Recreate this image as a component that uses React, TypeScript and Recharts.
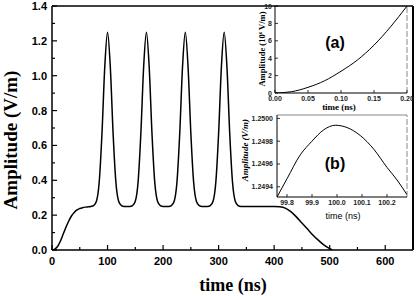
import React from 'react';
import { LineChart, Line, XAxis, YAxis, ReferenceLine } from 'recharts';

// main trace
const mainTime = [
  0, 5, 10, 15, 20, 25, 30, 35, 40, 45, 50, 55, 60, 65, 70,
  75, 80, 85, 90, 95, 100, 105, 110, 115, 120, 125, 130, 135, 140,
  145, 150, 155, 160, 165, 170, 175, 180, 185, 190, 195, 200, 205, 210,
  215, 220, 225, 230, 235, 240, 245, 250, 255, 260, 265, 270, 275, 280,
  285, 290, 295, 300, 305, 310, 315, 320, 325, 330, 335, 340, 350, 360, 370, 380, 390, 400,
  410, 420, 430, 440, 450, 460, 470, 480, 490, 500, 505,
];
const mainAmp = [
  0, 0.005, 0.02, 0.05, 0.09, 0.13, 0.165, 0.195, 0.215, 0.23, 0.238, 0.243, 0.246, 0.248, 0.25,
  0.255, 0.28, 0.39, 0.67, 1.05, 1.25, 1.05, 0.67, 0.39, 0.28, 0.255, 0.25, 0.25, 0.25,
  0.255, 0.28, 0.39, 0.67, 1.05, 1.25, 1.05, 0.67, 0.39, 0.28, 0.255, 0.25, 0.25, 0.25,
  0.255, 0.28, 0.39, 0.67, 1.05, 1.25, 1.05, 0.67, 0.39, 0.28, 0.255, 0.25, 0.25, 0.25,
  0.255, 0.28, 0.39, 0.67, 1.05, 1.25, 1.05, 0.67, 0.39, 0.28, 0.255, 0.25, 0.25, 0.25, 0.25, 0.25, 0.25, 0.25,
  0.248, 0.24, 0.22, 0.19, 0.155, 0.12, 0.085, 0.055, 0.028, 0.008, 0,
];
const mainXTicks = [0, 50, 100, 150, 200, 250, 300, 350, 400, 450, 500, 550, 600];
const mainYTicks = [0, 0.1, 0.2, 0.3, 0.4, 0.5, 0.6, 0.7, 0.8, 0.9, 1.0, 1.1, 1.2, 1.3, 1.4];

// inset (a): start of the pulse
const aTime = [0, 0.025, 0.05, 0.075, 0.1, 0.125, 0.15, 0.175, 0.2];
const aAmp = [0, 0.15, 0.65, 1.4, 2.5, 3.8, 5.5, 7.6, 10];
const aXTicks = [0, 0.05, 0.1, 0.15, 0.2];
const aYTicks = [0, 2, 4, 6, 8, 10];

// inset (b): top of the first peak
const bTime = [99.76, 99.8, 99.853, 99.9, 99.947, 99.993, 100.04, 100.093, 100.147, 100.2, 100.24, 100.28];
const bAmp = [1.24931, 1.24947, 1.24968, 1.2498, 1.2499, 1.24994, 1.24992, 1.24985, 1.24973, 1.24957, 1.24946, 1.24933];
const bXTicks = [99.8, 99.9, 100.0, 100.1, 100.2];
const bYTicks = [1.2494, 1.2496, 1.2498, 1.25];

const mainData = mainTime.map((t, i) => ({ t, v: mainAmp[i] }));
const aData = aTime.map((t, i) => ({ t, v: aAmp[i] }));
const bData = bTime.map((t, i) => ({ t, v: bAmp[i] }));

const sans = '"Liberation Sans", Arial, sans-serif';
const serif = '"Liberation Serif", "Times New Roman", serif';

const MainXTick = (props: any) => {
  const { x, y, payload } = props;
  const major = Math.round(payload.value) % 100 === 0;
  return (
    <g>
      <line x1={x} x2={x} y1={y} y2={y - (major ? 5 : 3)} stroke="#000" strokeWidth={1.2} />
      {major && (
        <text x={x} y={y + 15} textAnchor="middle" fontFamily={sans} fontWeight="bold" fontSize={11} fill="#000">
          {payload.value}
        </text>
      )}
    </g>
  );
};

const MainYTick = (props: any) => {
  const { x, y, payload } = props;
  const major = Math.round(payload.value * 10) % 2 === 0;
  return (
    <g>
      <line x1={x} x2={x + (major ? 5 : 3)} y1={y} y2={y} stroke="#000" strokeWidth={1.2} />
      {major && (
        <text x={x - 5} y={y + 4} textAnchor="end" fontFamily={sans} fontWeight="bold" fontSize={11} fill="#000">
          {payload.value.toFixed(1)}
        </text>
      )}
    </g>
  );
};

const insetXTick = (fmt: (v: number) => string) => (props: any) => {
  const { x, y, payload } = props;
  return (
    <g>
      <line x1={x} x2={x} y1={y} y2={y - 3} stroke="#000" strokeWidth={0.8} />
      <text x={x} y={y + 8} textAnchor="middle" fontFamily={sans} fontWeight="bold" fontSize={7} fill="#222">
        {fmt(Number(payload.value))}
      </text>
    </g>
  );
};

const insetYTick = (fmt: (v: number) => string) => (props: any) => {
  const { x, y, payload } = props;
  return (
    <g>
      <line x1={x} x2={x + 3} y1={y} y2={y} stroke="#000" strokeWidth={0.8} />
      <text x={x - 3} y={y + 2.5} textAnchor="end" fontFamily={sans} fontWeight="bold" fontSize={7} fill="#222">
        {fmt(Number(payload.value))}
      </text>
    </g>
  );
};

const layer: React.CSSProperties = { position: 'absolute', left: 0, top: 0 };

const label = (
  text: React.ReactNode,
  cx: number,
  cy: number,
  style: React.CSSProperties,
  rotate = false
) => (
  <div
    style={{
      position: 'absolute',
      left: cx,
      top: cy,
      transform: `translate(-50%, -50%)${rotate ? ' rotate(-90deg)' : ''}`,
      whiteSpace: 'nowrap',
      lineHeight: 1,
      color: '#000',
      ...style,
    }}
  >
    {text}
  </div>
);

export default function App() {
  return (
    <div style={{ position: 'absolute', left: 0, top: 0, width: 420, height: 296, background: '#fff', overflow: 'hidden' }}>
      <div style={layer}>
        <LineChart width={420} height={296} data={mainData} margin={{ top: 6, right: 7, left: 12, bottom: 16 }}>
          <XAxis
            dataKey="t"
            type="number"
            domain={[0, 650]}
            ticks={mainXTicks}
            height={30}
            tickSize={0}
            tickMargin={0}
            tickLine={false}
            axisLine={{ stroke: '#000', strokeWidth: 1.5 }}
            tick={MainXTick}
            interval={0}
            allowDataOverflow
          />
          <YAxis
            type="number"
            domain={[0, 1.4]}
            ticks={mainYTicks}
            width={40}
            tickSize={0}
            tickMargin={0}
            tickLine={false}
            axisLine={{ stroke: '#000', strokeWidth: 1.5 }}
            tick={MainYTick}
            interval={0}
            allowDataOverflow
          />
          <ReferenceLine y={1.4} stroke="#000" strokeWidth={1.5} />
          <ReferenceLine x={650} stroke="#000" strokeWidth={2} />
          <Line type="monotone" dataKey="v" stroke="#000" strokeWidth={1.5} dot={false} isAnimationActive={false} />
        </LineChart>
      </div>

      <div style={layer}>
        <LineChart width={420} height={296} data={aData} margin={{ top: 6, right: 13, left: 245, bottom: 183 }}>
          <XAxis
            dataKey="t"
            type="number"
            domain={[0, 0.2]}
            ticks={aXTicks}
            height={20}
            tickSize={0}
            tickMargin={0}
            tickLine={false}
            axisLine={{ stroke: '#000', strokeWidth: 1 }}
            tick={insetXTick((v) => v.toFixed(2))}
            interval={0}
            allowDataOverflow
          />
          <YAxis
            type="number"
            domain={[0, 10]}
            ticks={aYTicks}
            width={30}
            tickSize={0}
            tickMargin={0}
            tickLine={false}
            axisLine={{ stroke: '#000', strokeWidth: 1 }}
            tick={insetYTick((v) => v.toFixed(0))}
            interval={0}
            allowDataOverflow
          />
          <ReferenceLine x={0.2} stroke="#888" strokeWidth={1} strokeDasharray="6 2" />
          <Line type="monotone" dataKey="v" stroke="#000" strokeWidth={1} dot={false} isAnimationActive={false} />
        </LineChart>
      </div>

      <div style={layer}>
        <LineChart width={420} height={296} data={bData} margin={{ top: 115, right: 13, left: 247, bottom: 79 }}>
          <XAxis
            dataKey="t"
            type="number"
            domain={[99.76, 100.28]}
            ticks={bXTicks}
            height={20}
            tickSize={0}
            tickMargin={0}
            tickLine={false}
            axisLine={{ stroke: '#000', strokeWidth: 1 }}
            tick={insetXTick((v) => v.toFixed(1))}
            interval={0}
            allowDataOverflow
          />
          <YAxis
            type="number"
            domain={[1.24931, 1.25003]}
            ticks={bYTicks}
            width={30}
            tickSize={-3}
            tickMargin={7}
            tickLine={{ stroke: '#000', strokeWidth: 0.8 }}
            axisLine={{ stroke: '#000', strokeWidth: 1 }}
            tick={{ fontFamily: sans, fontWeight: 'bold', fontSize: 7, fill: '#222' }}
            tickFormatter={(v: number) => v.toFixed(4)}
            interval={0}
            allowDataOverflow
          />
          <ReferenceLine y={1.25003} stroke="#888" strokeWidth={1.2} />
          <ReferenceLine x={100.28} stroke="#888" strokeWidth={1} strokeDasharray="6 2" />
          <Line type="monotone" dataKey="v" stroke="#000" strokeWidth={1} dot={false} isAnimationActive={false} />
        </LineChart>
      </div>

      {label('Amplitude (V/m)', 10, 140, { fontFamily: serif, fontWeight: 'bold', fontSize: 19 }, true)}
      {label('time (ns)', 233, 285, { fontFamily: serif, fontWeight: 'bold', fontSize: 18 })}

      {label(
        <span>
          Amplitude (10<sup style={{ fontSize: 5 }}>6</sup> V/m)
        </span>,
        262,
        49,
        { fontFamily: serif, fontWeight: 'bold', fontSize: 8.5 },
        true
      )}
      {label('time (ns)', 339, 107, { fontFamily: serif, fontWeight: 'bold', fontSize: 9 })}
      {label('(a)', 335, 43, { fontFamily: sans, fontWeight: 'bold', fontSize: 16 })}

      {label('Amplitude (V/m)', 245, 150, { fontFamily: serif, fontWeight: 'bold', fontStyle: 'italic', fontSize: 9 }, true)}
      {label('time (ns)', 343, 216, { fontFamily: sans, fontSize: 9 })}
      {label('(b)', 335, 164, { fontFamily: sans, fontWeight: 'bold', fontSize: 16 })}
    </div>
  );
}
